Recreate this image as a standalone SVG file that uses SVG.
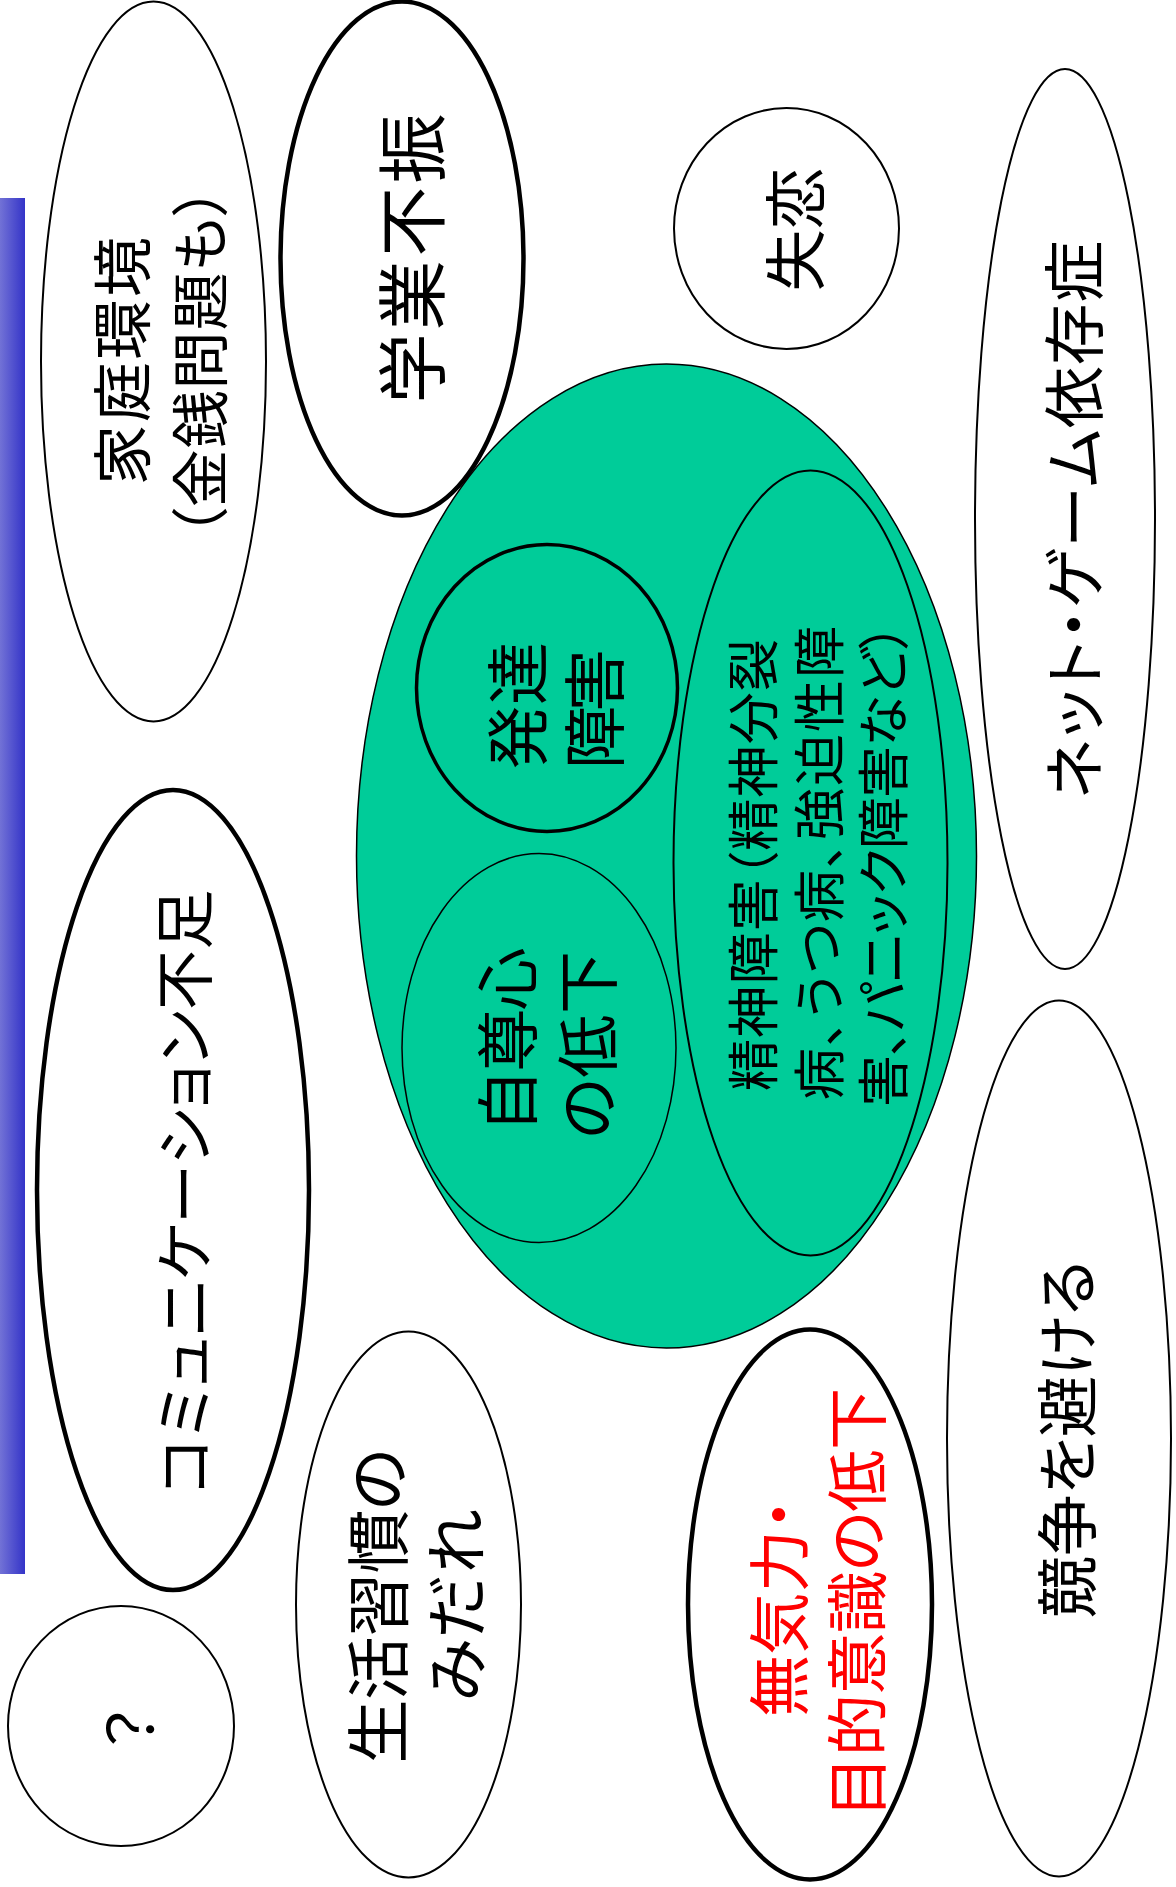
<svg xmlns="http://www.w3.org/2000/svg" width="1176" height="1887" viewBox="0 0 1176 1887">
<defs>
<linearGradient id="barGrad" x1="0" y1="0" x2="1" y2="0">
<stop offset="0" stop-color="#7272d6"/>
<stop offset="1" stop-color="#3434c8"/>
</linearGradient>
<style>
.t{font-family:"Noto Sans CJK JP","Noto Sans CJK SC",sans-serif;fill:#000;text-anchor:middle;dominant-baseline:central;font-feature-settings:"palt";}
.red{fill:#ff0000;}
.thin{fill:#fff;stroke:#000;stroke-width:2;}
.thick{fill:#fff;stroke:#000;stroke-width:4.5;}
.green{fill:#00cc99;stroke:#000;stroke-width:1.5;}
.ginner{fill:#00cc99;stroke:#000;stroke-width:2;}
.gthick{fill:#00cc99;stroke:#000;stroke-width:3.5;}
</style>
</defs>
<rect x="0" y="198" width="25" height="1376" fill="url(#barGrad)"/>

<g id="mental-core">
<ellipse class="green" cx="666.5" cy="856" rx="310" ry="492"/>
</g>
<g id="hattatsu">
<ellipse class="gthick" cx="547" cy="688" rx="130.5" ry="143.5"/>
<text class="t" font-size="63" textLength="127" lengthAdjust="spacing" transform="translate(513,705.5) rotate(-90)">発達</text>
<text class="t" font-size="63" textLength="120" lengthAdjust="spacing" transform="translate(590.5,709) rotate(-90)">障害</text>
</g>
<g id="jisonshin">
<ellipse class="ginner" cx="539" cy="1048" rx="137" ry="194.5" style="stroke-width:1.5"/>
<text class="t" font-size="63" textLength="185" lengthAdjust="spacing" transform="translate(503.5,1040) rotate(-90)">自尊心</text>
<text class="t" font-size="63" textLength="188" lengthAdjust="spacing" transform="translate(583,1045) rotate(-90)">の低下</text>
</g>
<g id="seishin">
<ellipse class="ginner" cx="810.5" cy="863" rx="137" ry="392.5"/>
<text class="t" font-size="52" textLength="452" lengthAdjust="spacing" transform="translate(750,865) rotate(-90)">精神障害（精神分裂</text>
<text class="t" font-size="52" textLength="474" lengthAdjust="spacing" transform="translate(816,863) rotate(-90)">病、うつ病、強迫性障</text>
<text class="t" font-size="52" textLength="484" lengthAdjust="spacing" transform="translate(880,865) rotate(-90)">害、パニック障害など）</text>
</g>

<g id="katei">
<ellipse class="thin" cx="153.5" cy="361.5" rx="112.5" ry="360"/>
<text class="t" font-size="60" textLength="248" lengthAdjust="spacing" transform="translate(118,361) rotate(-90)">家庭環境</text>
<text class="t" font-size="58" textLength="350" lengthAdjust="spacing" transform="translate(197,362) rotate(-90)">（金銭問題も）</text>
</g>
<g id="gakugyo">
<ellipse class="thick" cx="402" cy="258.5" rx="121.5" ry="257"/>
<text class="t" font-size="70" textLength="290" lengthAdjust="spacing" transform="translate(408.5,258.5) rotate(-90)">学業不振</text>
</g>
<g id="shitsuren">
<ellipse class="thin" cx="786.5" cy="228.5" rx="112.5" ry="120.5"/>
<text class="t" font-size="62" transform="translate(792,229.5) rotate(-90)">失恋</text>
</g>
<g id="net-game">
<ellipse class="thin" cx="1065" cy="519" rx="90" ry="450"/>
<text class="t" font-size="62" textLength="558" lengthAdjust="spacing" transform="translate(1070.5,519.5) rotate(-90)">ネット・ゲーム依存症</text>
</g>
<g id="communication">
<ellipse class="thick" cx="173" cy="1190" rx="136" ry="400"/>
<text class="t" font-size="60" textLength="605" lengthAdjust="spacing" transform="translate(180,1192) rotate(-90)">コミュニケーション不足</text>
</g>
<g id="question">
<ellipse class="thin" cx="121" cy="1726" rx="113" ry="120"/>
<text class="t" font-size="62" transform="translate(127,1729) rotate(-90)">？</text>
</g>
<g id="seikatsu">
<ellipse class="thin" cx="408.5" cy="1604.5" rx="112.5" ry="273"/>
<text class="t" font-size="64" textLength="315" lengthAdjust="spacing" transform="translate(374,1606) rotate(-90)">生活習慣の</text>
<text class="t" font-size="64" textLength="192" lengthAdjust="spacing" transform="translate(451.5,1605.5) rotate(-90)">みだれ</text>
</g>
<g id="mukiryoku">
<ellipse class="thick" cx="810" cy="1604.5" rx="122" ry="275"/>
<text class="t red" font-size="62" textLength="218" lengthAdjust="spacing" transform="translate(776,1608) rotate(-90)">無気力・</text>
<text class="t red" font-size="62" textLength="430" lengthAdjust="spacing" transform="translate(853.5,1603) rotate(-90)">目的意識の低下</text>
</g>
<g id="kyoso">
<ellipse class="thin" cx="1059" cy="1438.5" rx="112" ry="438"/>
<text class="t" font-size="62" textLength="358" lengthAdjust="spacing" transform="translate(1063.5,1439) rotate(-90)">競争を避ける</text>
</g>
<g id="connectors"></g>
</svg>
